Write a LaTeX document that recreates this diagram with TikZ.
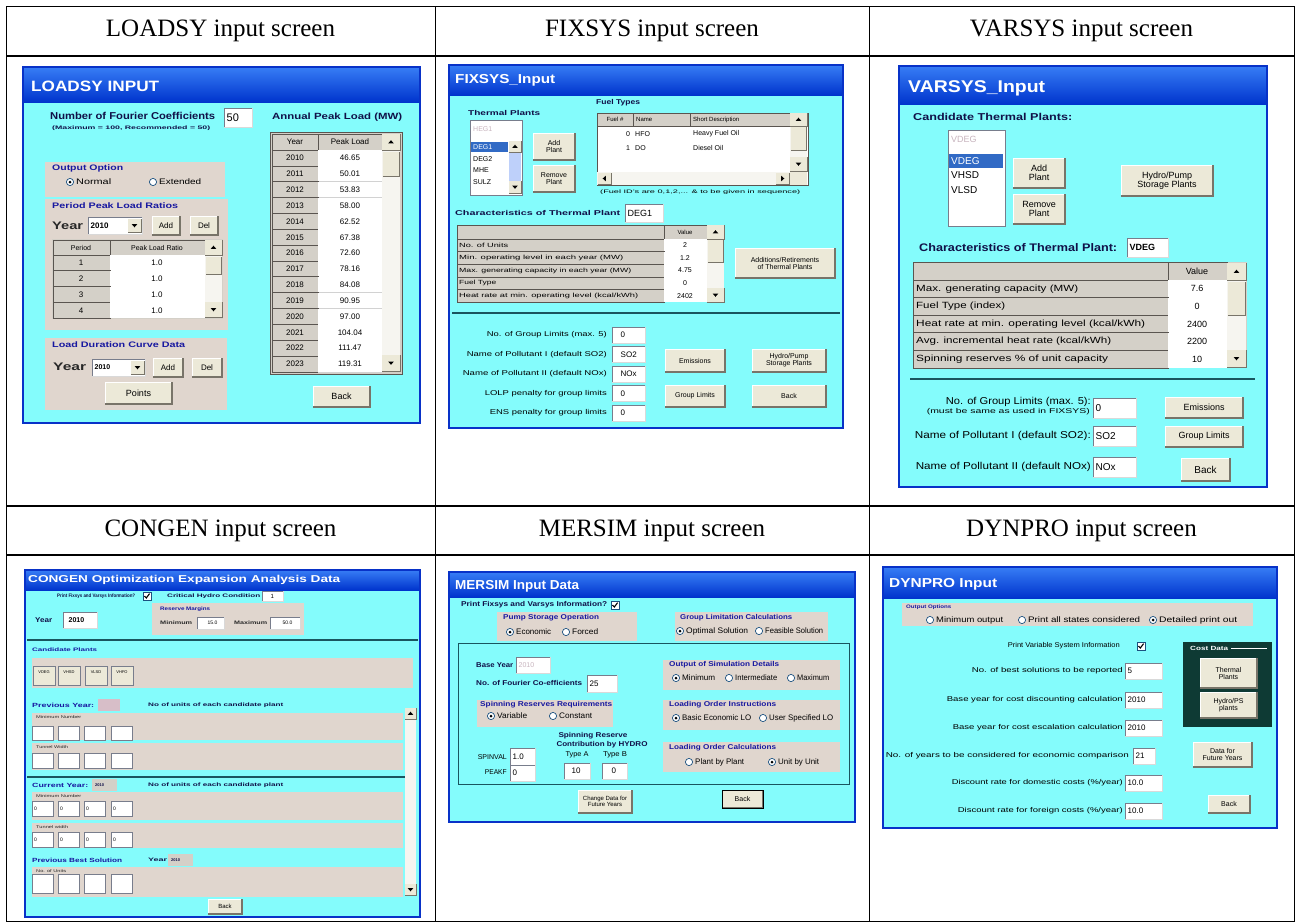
\documentclass[tikz,border=0pt]{standalone}
\usepackage{fontspec}
\setmainfont{Liberation Serif}
\setsansfont{Liberation Sans}
\usepackage{graphicx}
\usepackage{tikz}
\usetikzlibrary{arrows.meta,positioning,calc}
\usepackage{xcolor}

\definecolor{formcyan}{RGB}{132,252,252}
\definecolor{winblue}{RGB}{8,50,200}
\definecolor{titledk}{RGB}{0,52,205}
\definecolor{titlelt}{RGB}{55,125,245}
\definecolor{grpbeige}{RGB}{224,214,206}
\definecolor{btnface}{RGB}{236,233,216}
\definecolor{btnshadow}{RGB}{120,116,105}
\definecolor{cellgray}{RGB}{212,208,200}
\definecolor{gridedge}{RGB}{90,85,80}
\definecolor{fieldedge}{RGB}{120,125,140}
\definecolor{radioedge}{RGB}{28,81,128}
\definecolor{navytxt}{RGB}{16,16,72}
\definecolor{grpblue}{RGB}{24,24,160}
\definecolor{darktxt}{RGB}{40,40,40}
\definecolor{selblue}{RGB}{49,106,197}
\definecolor{fadetxt}{RGB}{200,180,190}
\definecolor{scrolltrack}{RGB}{246,245,240}
\definecolor{xpscroll}{RGB}{190,208,250}
\definecolor{septeal}{RGB}{25,85,95}
\definecolor{costgreen}{RGB}{14,58,52}
\definecolor{prevpink}{RGB}{215,190,200}

\newcommand\fw[2]{\resizebox{#1pt}{\height}{#2}}

\tikzset{
  lbl/.style={inner sep=0pt, font=\sffamily\fontsize{#1}{#1}\selectfont},
  lbl/.default=8,
  blbl/.style={inner sep=0pt, font=\sffamily\bfseries\fontsize{#1}{#1}\selectfont, text=navytxt},
  blbl/.default=8,
  glbl/.style={blbl=#1, text=grpblue},
  glbl/.default=8,
  wtitle/.style={inner sep=0pt, font=\sffamily\bfseries\fontsize{#1}{#1}\selectfont, text=white},
  heading/.style={inner sep=0pt, font=\rmfamily\fontsize{25}{25}\selectfont},
}

% window: x1 y1 x2 y2 title-bar bottom
\newcommand\xpwin[5]{%
  \fill[formcyan] (#1,#2) rectangle (#3,#4);
  \shade[top color=titlelt, bottom color=titledk] (#1,#2) rectangle (#3,#5);
  \draw[winblue, line width=2.4pt] (#1,#2) rectangle (#3,#4);
}
% button: name x1 y1 x2 y2 options text
\newcommand\xpbtn[7]{%
  \fill[btnface] (#2,#3) rectangle (#4,#5);
  \draw[white, line width=0.8pt] (#2,#5) |- (#4,#3);
  \draw[btnshadow, line width=1.3pt] (#2,#5) -| (#4,#3);
  \node[lbl, align=center, #6] (#1) at ({(#2+#4)/2},{(#3+#5)/2}) {#7};
}
% text field: name x1 y1 x2 y2 options text
\newcommand\xpfield[7]{%
  \fill[white] (#2,#3) rectangle (#4,#5);
  \draw[fieldedge, line width=0.8pt] (#2,#5) |- (#4,#3);
  \draw[gray!30, line width=0.6pt] (#2,#5) -| (#4,#3);
  \node[lbl, anchor=west, #6] (#1) at ({#2+2.5},{(#3+#5)/2}) {#7};
}
\newcommand\xpgroup[4]{%
  \fill[grpbeige] (#1,#2) rectangle (#3,#4);
}
% radio: name x y on label
\newcommand\xpradio[5]{%
  \fill[white] (#2,#3) circle (3.6pt);
  \draw[radioedge, line width=0.7pt] (#2,#3) circle (3.6pt);
  \ifnum#4=1 \fill[black] (#2,#3) circle (1.5pt);\fi
  \node[lbl, anchor=west] (#1) at ({#2+6},#3) {#5};
}
\newcommand\xpcheck[3]{%
  \fill[white] (#2-4,#3-4) rectangle (#2+4,#3+4);
  \draw[radioedge, line width=0.7pt] (#2-4,#3-4) rectangle (#2+4,#3+4);
  \draw[line width=1.1pt] (#2-2.5,#3) -- (#2-0.7,#3+2) -- (#2+2.6,#3-2.4);
  \coordinate (#1) at (#2,#3);
}
% scroll arrow: x1 y1 x2 y2 dir (1 up, -1 down)
\newcommand\xparrow[5]{%
  \fill[btnface] (#1,#2) rectangle (#3,#4);
  \draw[btnshadow, line width=0.6pt] (#1,#4) -| (#3,#2);
  \fill[black] ({(#1+#3)/2},{(#2+#4)/2-1.8*(#5)}) -- ({(#1+#3)/2-2.8},{(#2+#4)/2+1.4*(#5)})
    -- ({(#1+#3)/2+2.8},{(#2+#4)/2+1.4*(#5)}) -- cycle;
}
\newcommand\xparrowh[5]{%
  \fill[btnface] (#1,#2) rectangle (#3,#4);
  \draw[btnshadow, line width=0.6pt] (#1,#4) -| (#3,#2);
  \fill[black] ({(#1+#3)/2-1.8*(#5)},{(#2+#4)/2}) -- ({(#1+#3)/2+1.4*(#5)},{(#2+#4)/2-2.8})
    -- ({(#1+#3)/2+1.4*(#5)},{(#2+#4)/2+2.8}) -- cycle;
}
% CONGEN beige band: name y1 y2 label width
\newcommand\cgband[5]{%
  \fill[grpbeige] (32,#2) rectangle (403,#3);
  \node[lbl=4, anchor=west, text=darktxt] (#1) at (36,#2+4) {\fw{#5}{#4}};
}
\newcommand\cgboxes[3]{%
  \foreach \xa in {32,58,84,111}{
    \fill[white] (\xa,#1) rectangle (\xa+21,#2);
    \draw[fieldedge, line width=0.7pt] (\xa,#1) rectangle (\xa+21,#2);
    \node[lbl=5, anchor=west] (cgb-#1-\xa) at (\xa+2,{(#1+#2)/2}) {#3};
  }
}

\begin{document}
\begin{tikzpicture}[x=1pt,y=-1pt]
\useasboundingbox (0,0) rectangle (1299,924);
\fill[white] (0,0) rectangle (1299,924);

\node[heading] (hdload) at (220.5,31) {LOADSY input screen};
\node[heading] (hdfix) at (652,31) {FIXSYS input screen};
\node[heading] (hdvar) at (1081.5,31) {VARSYS input screen};
\node[heading] (hdcon) at (220.5,531) {CONGEN input screen};
\node[heading] (hdmer) at (652,531) {MERSIM input screen};
\node[heading] (hddyn) at (1081.5,531) {DYNPRO input screen};

%% LOADSY
\xpwin{23}{67}{420}{423}{102}
\node[wtitle=15, anchor=west] (ldtitle) at (31,86) {\fw{128}{LOADSY INPUT}};
\node[blbl=10, anchor=west] (ldfour) at (50,116) {\fw{165}{Number of Fourier Coefficients}};
\node[blbl=5, anchor=west] (ldmaxrec) at (52,128) {\fw{158}{(Maximum = 100, Recommended = 50)}};
\xpfield{ldfourval}{224}{108}{252}{127}{lbl=11}{50}
\node[blbl=9, anchor=west] (ldannual) at (272,117) {\fw{130}{Annual Peak Load (MW)}};
\fill[cellgray] (270,132) rectangle (402,374);
\draw[gridedge] (270,132) rectangle (402,374);
\draw[gridedge, line width=0.7pt] (272,134) rectangle (318,150) (318,134) rectangle (382,150);
\node[lbl=8] (ldhyear) at (295,142) {Year};
\node[lbl=8] (ldhpeak) at (350,142) {Peak Load};
\foreach \yr/\pk [count=\i from 0] in {2010/46.65,2011/50.01,2012/53.83,2013/58.00,2014/62.52,2015/67.38,2016/72.60,2017/78.16,2018/84.08,2019/90.95,2020/97.00,2021/104.04,2022/111.47,2023/119.31}{
  \pgfmathsetmacro\ya{150+15.85*\i}
  \fill[cellgray] (272,\ya) rectangle (318,\ya+15.85);
  \draw[gridedge, line width=0.7pt] (272,\ya) rectangle (318,\ya+15.85);
  \fill[white] (318,\ya) rectangle (382,\ya+15.85);
  \draw[gray!35, line width=0.5pt] (318,\ya+15.85) -- (382,\ya+15.85);
  \node[lbl=8] (ldy\i) at (295,\ya+8) {\yr};
  \node[lbl=8] (ldp\i) at (350,\ya+8) {\pk};
}
\fill[scrolltrack] (382,150) rectangle (400,372);
\xparrow{382}{134}{400}{150}{1}
\fill[btnface] (383,152) rectangle (399,176);
\draw[btnshadow, line width=0.6pt] (383,176) -| (399,152);
\xparrow{382}{355}{400}{371}{-1}

\xpgroup{45}{162}{225}{197}
\node[glbl=8, anchor=west] (ldoutopt) at (52,168) {\fw{71}{Output Option}};
\xpradio{ldnormal}{70}{182}{1}{\fw{35}{Normal}}
\xpradio{ldext}{153}{182}{0}{\fw{42}{Extended}}

\xpgroup{45}{199}{228}{330}
\node[glbl=8, anchor=west] (ldperiod) at (52,206) {\fw{126}{Period Peak Load Ratios}};
\node[blbl=11, text=darktxt, anchor=west] (ldyear1) at (52,226) {\fw{31}{Year}};
\xpfield{ldcombo1}{88}{217}{142}{234}{blbl=8, text=black}{2010}
\xparrow{128}{219}{141}{232}{-1}
\xpbtn{ldadd1}{152}{216}{180}{235}{}{Add}
\xpbtn{lddel1}{190}{216}{218}{235}{}{Del}
\fill[cellgray] (52,239) rectangle (223,319);
\draw[gridedge, line width=0.7pt] (53,240) rectangle (110,255) (110,240) rectangle (205,255);
\node[lbl=7] (ldhper) at (81,248) {Period};
\node[lbl=7] (ldhratio) at (157,248) {Peak Load Ratio};
\foreach \p in {1,...,4}{
  \pgfmathsetmacro\ya{255+15.8*(\p-1)}
  \draw[gridedge, line width=0.7pt] (53,\ya) rectangle (110,\ya+15.8);
  \fill[white] (110,\ya) rectangle (205,\ya+15.8);
  \node[lbl=8] (ldper\p) at (81,\ya+8) {\p};
  \node[lbl=8] (ldrat\p) at (157,\ya+8) {1.0};
}
\fill[scrolltrack] (205,255) rectangle (222,318);
\xparrow{205}{240}{222}{255}{1}
\fill[btnface] (206,257) rectangle (221,274);
\draw[btnshadow, line width=0.6pt] (206,274) -| (221,257);
\xparrow{205}{302}{222}{317}{-1}

\xpgroup{45}{338}{227}{410}
\node[glbl=8, anchor=west] (ldldc) at (52,345) {\fw{133}{Load Duration Curve Data}};
\node[blbl=11, text=darktxt, anchor=west] (ldyear2) at (53,367) {\fw{33}{Year}};
\xpfield{ldcombo2}{92}{359}{145}{376}{blbl=7, text=black}{2010}
\xparrow{131}{361}{144}{374}{-1}
\xpbtn{ldadd2}{153}{358}{183}{377}{}{Add}
\xpbtn{lddel2}{192}{358}{222}{377}{}{Del}
\xpbtn{ldpoints}{105}{382}{172}{404}{lbl=9}{Points}
\xpbtn{ldback}{313}{386}{370}{407}{lbl=9}{Back}

%% FIXSYS
\xpwin{449}{65}{843}{428}{95}
\node[wtitle=13, anchor=west] (fxtitle) at (455,80) {\fw{100}{FIXSYS\_Input}};
\node[blbl=7, anchor=west] (fxplants) at (468,113) {\fw{72}{Thermal Plants}};
\fill[white] (470,120) rectangle (522,195);
\draw[fieldedge] (470,120) rectangle (522,195);
\node[lbl=7, text=fadetxt, anchor=west] (fxfade) at (473,129) {HEG1};
\fill[selblue] (471,142) rectangle (508,152);
\node[lbl=7, text=white, anchor=west] (fxdeg1) at (473,147) {DEG1};
\node[lbl=7, anchor=west] (fxdeg2) at (473,159) {DEG2};
\node[lbl=7, anchor=west] (fxmhe) at (473,170) {MHE};
\node[lbl=7, anchor=west] (fxsulz) at (473,182) {SULZ};
\fill[xpscroll] (509,141) rectangle (521,193);
\xparrow{509}{141}{521}{152}{1}
\xparrow{509}{181}{521}{193}{-1}
\xpbtn{fxadd}{533}{133}{575}{160}{lbl=7}{Add\\Plant}
\xpbtn{fxremove}{533}{165}{575}{192}{lbl=7}{Remove\\Plant}
\node[blbl=7, anchor=west] (fxfuel) at (596,103) {\fw{44}{Fuel Types}};
\fill[white] (597,113) rectangle (808,185);
\draw[gridedge] (597,113) rectangle (808,185);
\fill[cellgray] (597,113) rectangle (790,126);
\draw[gridedge, line width=0.6pt] (597,113) rectangle (633,126) (633,113) rectangle (690,126) (690,113) rectangle (790,126);
\node[lbl=6] (fxhid) at (615,119.5) {Fuel \#};
\node[lbl=6, anchor=west] (fxhname) at (636,119.5) {Name};
\node[lbl=6, anchor=west] (fxhdesc) at (693,119.5) {Short Description};
\node[lbl=7] (fxid0) at (628,134) {0};
\node[lbl=7, anchor=west] (fxn0) at (635,134) {HFO};
\node[lbl=7, anchor=west] (fxd0) at (693,134) {Heavy Fuel Oil};
\node[lbl=7] (fxid1) at (628,148) {1};
\node[lbl=7, anchor=west] (fxn1) at (635,148) {DO};
\node[lbl=7, anchor=west] (fxd1) at (693,148) {Diesel Oil};
\fill[scrolltrack] (790,126) rectangle (807,172);
\xparrow{790}{113}{807}{126}{1}
\fill[btnface] (791,127) rectangle (806,150);
\draw[btnshadow, line width=0.6pt] (791,150) -| (806,127);
\xparrow{790}{157}{807}{171}{-1}
\fill[scrolltrack] (597,172) rectangle (790,185);
\xparrowh{598}{173}{611}{184}{1}
\xparrowh{776}{173}{789}{184}{-1}
\fill[btnface] (790,172) rectangle (807,185);
\node[lbl=5, anchor=west] (fxnote) at (600,192) {\fw{200}{(Fuel ID's are 0,1,2,... \& to be given in sequence)}};
\node[blbl=7, anchor=west] (fxchar) at (455,213) {\fw{165}{Characteristics of Thermal Plant}};
\xpfield{fxcharname}{625}{204}{663}{222}{lbl=9}{DEG1}
\fill[cellgray] (457,225) rectangle (724,302);
\draw[gridedge, line width=0.6pt] (457,225) rectangle (664,239) (664,225) rectangle (707,239);
\node[lbl=6] (fxhval) at (685,232) {Value};
\foreach \nm/\lw/\vl [count=\i from 0] in {{No. of Units}/49/2,{Min. operating level in each year (MW)}/164/1.2,{Max. generating capacity in each year (MW)}/172/4.75,{Fuel Type}/37/0,{Heat rate at min. operating level (kcal\slash kWh)}/179/2402}{
  \pgfmathsetmacro\ya{239+12.6*\i}
  \draw[gridedge, line width=0.6pt] (457,\ya) rectangle (664,\ya+12.6);
  \fill[white] (664,\ya) rectangle (707,\ya+12.6);
  \node[lbl=6, anchor=west] (fxr\i) at (459,\ya+6.3) {\fw{\lw}{\nm}};
  \node[lbl=7] (fxv\i) at (685,\ya+6.3) {\vl};
}
\fill[scrolltrack] (707,239) rectangle (724,302);
\xparrow{707}{225}{724}{239}{1}
\fill[btnface] (708,240) rectangle (723,262);
\draw[btnshadow, line width=0.6pt] (708,262) -| (723,240);
\xparrow{707}{288}{724}{302}{-1}
\xpbtn{fxaddret}{735}{248}{835}{278}{lbl=7}{Additions/Retirements\\of Thermal Plants}
\draw[septeal, line width=1.6pt] (452,313) -- (840,313);
\foreach \txt/\lw/\val [count=\i from 0] in {{No. of Group Limits (max. 5)}/120/0,{Name of Pollutant I (default SO2)}/140/SO2,{Name of Pollutant II (default NOx)}/144/NOx,{LOLP penalty for group limits}/122/0,{ENS penalty for group limits}/117/0}{
  \pgfmathsetmacro\ya{335+19.5*\i}
  \node[lbl=7, anchor=east] (fxl\i) at (607,\ya) {\fw{\lw}{\txt}};
  \xpfield{fxf\i}{612}{\ya-8}{645}{\ya+8}{lbl=8, xshift=6pt}{\val}
}
\xpbtn{fxemis}{665}{349}{725}{372}{lbl=7}{Emissions}
\xpbtn{fxgrp}{665}{385}{725}{407}{lbl=7}{Group Limits}
\xpbtn{fxhydro}{752}{349}{826}{372}{lbl=7}{Hydro/Pump\\Storage Plants}
\xpbtn{fxback}{752}{385}{826}{407}{lbl=7}{Back}

%% VARSYS
\xpwin{899}{66}{1267}{487}{104}
\node[wtitle=17, anchor=west] (vstitle) at (908,88) {\fw{137}{VARSYS\_Input}};
\node[blbl=10, anchor=west] (vscand) at (913,117) {\fw{159}{Candidate Thermal Plants:}};
\fill[white] (948,130) rectangle (1005,226);
\draw[fieldedge] (948,130) rectangle (1005,226);
\node[lbl=9, text=fadetxt, anchor=west] (vsfade) at (951,139) {VDEG};
\fill[selblue] (949,154) rectangle (1003,168);
\node[lbl=10, text=white, anchor=west] (vsvdeg) at (951,161) {VDEG};
\node[lbl=10, anchor=west] (vsvhsd) at (951,175) {VHSD};
\node[lbl=10, anchor=west] (vsvlsd) at (951,190) {VLSD};
\xpbtn{vsadd}{1013}{158}{1065}{188}{lbl=9}{Add\\Plant}
\xpbtn{vsrem}{1013}{194}{1065}{224}{lbl=9}{Remove\\Plant}
\xpbtn{vshydro}{1121}{165}{1213}{196}{lbl=9}{Hydro/Pump\\Storage Plants}
\node[blbl=11, anchor=west] (vschar) at (919,248) {\fw{198}{Characteristics of Thermal Plant:}};
\xpfield{vscharname}{1127}{238}{1168}{257}{blbl=9, text=black}{VDEG}
\fill[cellgray] (913,262) rectangle (1247,368);
\draw[gridedge, line width=0.7pt] (913,262) rectangle (1168,280) (1168,262) rectangle (1227,280);
\node[lbl=9] (vshval) at (1197,271) {Value};
\foreach \nm/\lw/\vl [count=\i from 0] in {{Max. generating capacity (MW)}/162/7.6,{Fuel Type (index)}/89/0,{Heat rate at min. operating level (kcal\slash kWh)}/229/2400,{Avg. incremental heat rate (kcal\slash kWh)}/195/2200,{Spinning reserves \% of unit capacity}/192/10}{
  \pgfmathsetmacro\ya{280+17.6*\i}
  \draw[gridedge, line width=0.7pt] (913,\ya) rectangle (1168,\ya+17.6);
  \fill[white] (1168,\ya) rectangle (1227,\ya+17.6);
  \node[lbl=9, anchor=west] (vsr\i) at (916,\ya+8.8) {\fw{\lw}{\nm}};
  \node[lbl=9] (vsv\i) at (1197,\ya+8.8) {\vl};
}
\fill[scrolltrack] (1227,280) rectangle (1246,367);
\xparrow{1227}{263}{1246}{280}{1}
\fill[btnface] (1228,282) rectangle (1245,315);
\draw[btnshadow, line width=0.6pt] (1228,315) -| (1245,282);
\xparrow{1227}{350}{1246}{367}{-1}
\draw[septeal, line width=1.6pt] (910,379) -- (1255,379);
\node[lbl=10, anchor=east] (vsng) at (1091,402) {\fw{145}{No. of Group Limits (max. 5):}};
\node[lbl=7, anchor=east] (vsmust) at (1090,412) {\fw{163}{(must be same as used in FIXSYS)}};
\xpfield{vsngv}{1093}{398}{1136}{418}{lbl=10}{0}
\node[lbl=10, anchor=east] (vsp1) at (1091,436) {\fw{176}{Name of Pollutant I (default SO2):}};
\xpfield{vsp1v}{1093}{426}{1136}{446}{lbl=10}{SO2}
\node[lbl=10, anchor=east] (vsp2) at (1091,467) {\fw{175}{Name of Pollutant II (default NOx)}};
\xpfield{vsp2v}{1093}{457}{1136}{477}{lbl=10}{NOx}
\xpbtn{vsemis}{1165}{397}{1243}{418}{lbl=9}{Emissions}
\xpbtn{vsgrp}{1165}{426}{1243}{447}{lbl=9}{Group Limits}
\xpbtn{vsback}{1181}{458}{1230}{481}{lbl=10}{Back}

%% CONGEN
\xpwin{25}{570}{420}{917}{590}
\node[wtitle=10, anchor=west] (cgtitle) at (28,580) {\fw{312}{CONGEN Optimization Expansion Analysis Data}};
\node[blbl=5, anchor=west] (cgprint) at (57,596) {\fw{78}{Print Fixsys and Varsys Information?}};
\xpcheck{cgcheck}{147}{596}
\node[blbl=5, anchor=west] (cgcrit) at (167,596) {\fw{93}{Critical Hydro Condition}};
\xpfield{cgcritv}{262}{591}{283}{601}{lbl=6, xshift=6pt}{1}
\node[blbl=7, anchor=west] (cgyear) at (35,620) {\fw{17}{Year}};
\xpfield{cgyearv}{63}{612}{97}{628}{blbl=7, text=black, xshift=3pt}{2010}
\xpgroup{152}{603}{304}{635}
\node[glbl=5, anchor=west] (cgres) at (160,609) {\fw{50}{Reserve Margins}};
\node[blbl=5, text=darktxt, anchor=west] (cgmin) at (160,623) {\fw{32}{Minimum}};
\xpfield{cgminv}{197}{617}{224}{629}{lbl=5, xshift=8pt}{15.0}
\node[blbl=5, text=darktxt, anchor=west] (cgmax) at (234,623) {\fw{33}{Maximum}};
\xpfield{cgmaxv}{270}{617}{300}{629}{lbl=5, xshift=10pt}{50.0}
\draw[septeal, line width=1.8pt] (27,640) -- (418,640);
\node[glbl=5, anchor=west] (cgcand) at (32,650) {\fw{65}{Candidate Plants}};
\fill[grpbeige] (32,658) rectangle (413,688);
\foreach \pl/\xa [count=\i] in {VDEG/33,VHSD/58,VLSD/85,VHFO/111}{
  \fill[btnface] (\xa,666) rectangle (\xa+22,685);
  \draw[fieldedge, line width=0.7pt] (\xa,666) rectangle (\xa+22,685);
  \node[lbl=4] (cgpl\i) at (\xa+11,672) {\pl};
}
\node[glbl=6, anchor=west] (cgprev) at (32,705) {\fw{62}{Previous Year:}};
\fill[prevpink] (98,699) rectangle (120,711);
\node[blbl=5, anchor=west] (cgunits1) at (148,705) {\fw{135}{No of units of each candidate plant}};
\cgband{cgmin1}{713}{740}{Minimum Number}{45}
\cgboxes{726}{740}{}
\cgband{cgtun1}{743}{770}{Tunnel Width}{32}
\cgboxes{753}{768}{}
\draw[septeal, line width=1.8pt] (27,777) -- (405,777);
\node[glbl=6, anchor=west] (cgcur) at (32,785) {\fw{56}{Current Year:}};
\fill[cellgray] (92,779) rectangle (117,791);
\node[blbl=4, anchor=west] (cgcurv) at (95,785) {2010};
\node[blbl=5, anchor=west] (cgunits2) at (148,785) {\fw{135}{No of units of each candidate plant}};
\cgband{cgmin2}{792}{820}{Minimum Number}{45}
\cgboxes{801}{816}{0}
\cgband{cgtun2}{823}{848}{Tunnel width}{32}
\cgboxes{832}{847}{0}
\node[glbl=6, anchor=west] (cgbest) at (32,860) {\fw{90}{Previous Best Solution}};
\node[blbl=5, anchor=west] (cgbyear) at (148,860) {\fw{19}{Year}};
\fill[cellgray] (168,854) rectangle (193,866);
\node[blbl=4, anchor=west] (cgbyearv) at (171,860) {2010};
\cgband{cgnou}{867}{897}{No. of Units}{30}
\cgboxes{874}{893}{}
\fill[scrolltrack] (405,708) rectangle (416,895);
\xparrow{405}{708}{416}{719}{1}
\xparrow{405}{884}{416}{895}{-1}
\xpbtn{cgback}{208}{899}{242}{914}{lbl=6}{Back}

%% MERSIM
\xpwin{449}{572}{855}{822}{597}
\node[wtitle=13, anchor=west] (mstitle) at (455,586) {\fw{124}{MERSIM Input Data}};
\node[blbl=7, anchor=west] (msprint) at (461,605) {\fw{146}{Print Fixsys and Varsys Information?}};
\xpcheck{mscheck}{615}{605}
\xpgroup{497}{612}{637}{641}
\node[glbl=7, anchor=west] (mspump) at (503,618) {\fw{96}{Pump Storage Operation}};
\xpradio{mseco}{510}{632}{1}{\fw{35}{Economic}}
\xpradio{msforced}{566}{632}{0}{\fw{26}{Forced}}
\xpgroup{675}{612}{828}{641}
\node[glbl=7, anchor=west] (msgrp) at (680,618) {\fw{112}{Group Limitation Calculations}};
\xpradio{msopt}{680}{631}{1}{\fw{62}{Optimal Solution}}
\xpradio{msfeas}{759}{631}{0}{\fw{58}{Feasible Solution}}
\draw[septeal, line width=1pt] (458,643) rectangle (849,784);
\node[blbl=7, anchor=west] (msbase) at (476,665) {\fw{37}{Base Year}};
\xpfield{msbasev}{516}{657}{550}{673}{lbl=7, text=fadetxt}{2010}
\node[blbl=7, anchor=west] (msfour) at (476,683) {\fw{106}{No. of Fourier Co-efficients}};
\xpfield{msfourv}{587}{675}{617}{692}{lbl=8}{25}
\xpgroup{477}{700}{613}{727}
\node[glbl=7, anchor=west] (msspin) at (480,705) {\fw{132}{Spinning Reserves Requirements}};
\xpradio{msvar}{491}{716}{1}{\fw{30}{Variable}}
\xpradio{mscon}{553}{716}{0}{\fw{33}{Constant}}
\node[blbl=7] (msspr) at (593,736) {\fw{69}{Spinning Reserve}};
\node[blbl=7] (mscontr) at (602,745) {\fw{91}{Contribution by HYDRO}};
\node[lbl=7] (mstypa) at (577,755) {\fw{23}{Type A}};
\node[lbl=7] (mstypb) at (615,755) {\fw{24}{Type B}};
\node[lbl=7, anchor=east] (msspinval) at (507,757) {\fw{29}{SPINVAL}};
\xpfield{msspinv}{510}{748}{535}{765}{lbl=8}{1.0}
\node[lbl=7, anchor=east] (mspeakf) at (507,772) {\fw{22}{PEAKF}};
\xpfield{mspeakv}{510}{765}{535}{781}{lbl=8}{0}
\xpfield{mstav}{564}{763}{590}{779}{lbl=8, xshift=5pt}{10}
\xpfield{mstbv}{602}{763}{627}{779}{lbl=8, xshift=7pt}{0}
\xpgroup{663}{660}{840}{690}
\node[glbl=7, anchor=west] (msout) at (669,665) {\fw{110}{Output of Simulation Details}};
\xpradio{msmin}{676}{678}{1}{\fw{33}{Minimum}}
\xpradio{msint}{729}{678}{0}{\fw{42}{Intermediate}}
\xpradio{msmax}{791}{678}{0}{\fw{32}{Maximum}}
\xpgroup{663}{700}{840}{730}
\node[glbl=7, anchor=west] (msloi) at (669,705) {\fw{107}{Loading Order Instructions}};
\xpradio{msbasic}{676}{718}{1}{\fw{69}{Basic Economic LO}}
\xpradio{msuser}{763}{718}{0}{\fw{64}{User Specified LO}}
\xpgroup{663}{742}{840}{772}
\node[glbl=7, anchor=west] (mslc) at (669,748) {\fw{107}{Loading Order Calculations}};
\xpradio{msplant}{689}{762}{0}{\fw{49}{Plant by Plant}}
\xpradio{msunit}{772}{762}{1}{\fw{41}{Unit by Unit}}
\xpbtn{mschange}{578}{790}{632}{813}{lbl=6}{Change Data for\\Future Years}
\xpbtn{msback}{722}{790}{763}{808}{lbl=7}{Back}
\draw[black, line width=0.8pt] (722,790) rectangle (763,808);

%% DYNPRO
\xpwin{883}{567}{1277}{828}{598}
\node[wtitle=13, anchor=west] (dptitle) at (889,584) {\fw{108}{DYNPRO Input}};
\xpgroup{902}{603}{1253}{626}
\node[glbl=5, anchor=west] (dpout) at (906,607) {\fw{45}{Output Options}};
\xpradio{dpmin}{930}{620}{0}{\fw{67}{Minimum output}}
\xpradio{dpall}{1022}{620}{0}{\fw{112}{Print all states considered}}
\xpradio{dpdet}{1153}{620}{1}{\fw{78}{Detailed print out}}
\node[lbl=7, anchor=east] (dppvs) at (1120,646) {\fw{112}{Print Variable System Information}};
\xpcheck{dpcheck}{1141}{646}
\node[lbl=7, anchor=east] (dpbest) at (1123,671) {\fw{151}{No. of best solutions to be reported}};
\xpfield{dpbestv}{1125}{663}{1162}{679}{lbl=8}{5}
\node[lbl=7, anchor=east] (dpdisc) at (1123,700) {\fw{176}{Base year for cost discounting calculation}};
\xpfield{dpdiscv}{1125}{692}{1162}{708}{lbl=8}{2010}
\node[lbl=7, anchor=east] (dpesc) at (1123,728) {\fw{170}{Base year for cost escalation calculation}};
\xpfield{dpescv}{1125}{720}{1162}{736}{lbl=8}{2010}
\node[lbl=7, anchor=east] (dpyears) at (1129,756) {\fw{243}{No. of years to be considered for economic comparison}};
\xpfield{dpyearsv}{1133}{748}{1155}{764}{lbl=8}{21}
\node[lbl=7, anchor=east] (dpdom) at (1123,783) {\fw{171}{Discount rate for domestic costs (\%/year)}};
\xpfield{dpdomv}{1125}{775}{1162}{791}{lbl=8}{10.0}
\node[lbl=7, anchor=east] (dpfor) at (1123,811) {\fw{165}{Discount rate for foreign costs (\%/year)}};
\xpfield{dpforv}{1125}{803}{1162}{819}{lbl=8}{10.0}
\fill[costgreen] (1183,642) rectangle (1272,727);
\node[blbl=6, text=white, anchor=west] (dpcost) at (1190,648) {\fw{38}{Cost Data}};
\draw[white, line width=0.6pt] (1231,648) -- (1267,648);
\xpbtn{dpthermal}{1200}{658}{1257}{688}{lbl=7}{Thermal\\Plants}
\xpbtn{dphydro}{1200}{692}{1257}{718}{lbl=7}{Hydro/PS\\plants}
\xpbtn{dpfuture}{1193}{742}{1252}{767}{lbl=7}{Data for\\Future Years}
\xpbtn{dpback}{1208}{795}{1250}{813}{lbl=7}{Back}

%% table rules
\draw[line width=1pt] (6,6) rectangle (1294,921);
\draw[line width=1pt] (435,6) -- (435,921) (869,6) -- (869,921);
\draw[line width=2.6pt] (6,56) -- (1294,56) (6,506) -- (1294,506) (6,555) -- (1294,555);
\end{tikzpicture}
\end{document}
